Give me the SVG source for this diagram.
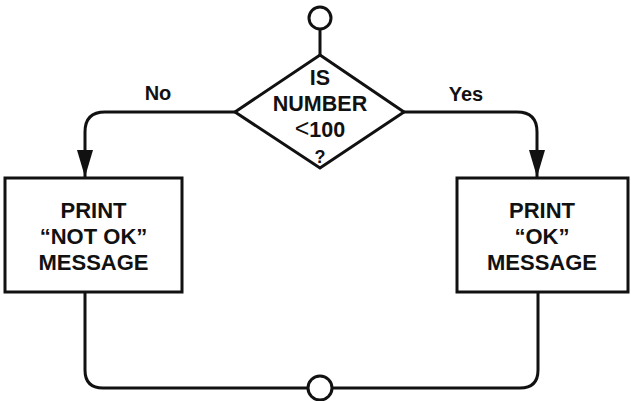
<svg xmlns="http://www.w3.org/2000/svg" width="631" height="401" viewBox="0 0 631 401">
  <style>
    .ln { fill: none; stroke: #111; stroke-width: 3; stroke-linejoin: round; }
    .shape { fill: #fff; stroke: #111; stroke-width: 3; }
    .t { font-family: "Liberation Sans", Arial, sans-serif; font-weight: bold; fill: #111; text-anchor: middle; }
    .big { font-size: 22px; }
    .dia { font-size: 21.5px; }
    .lbl { font-size: 20px; }
    .thin { font-weight: normal; font-size: 25px; }
  </style>
  <defs>
    <marker id="arrow" markerUnits="userSpaceOnUse" markerWidth="28" markerHeight="18" refX="27" refY="9" orient="auto" viewBox="0 0 28 18">
      <path d="M0,1 L27,9 L0,17 Z" fill="#111"/>
    </marker>
  </defs>
  <rect width="631" height="401" fill="#fff"/>

  <g id="connectors">
    <!-- start terminal to decision -->
    <line class="ln" x1="320" y1="30" x2="320" y2="55"/>
    <!-- No branch -->
    <path class="ln" d="M235,112 H105 Q85,112 85,132 V177" marker-end="url(#arrow)"/>
    <!-- Yes branch -->
    <path class="ln" d="M404,112 H517 Q537,112 537,132 V177" marker-end="url(#arrow)"/>
    <!-- merge back -->
    <path class="ln" d="M85,293 V370 Q85,388 103,388 H308"/>
    <path class="ln" d="M538,293 V370 Q538,388 520,388 H332"/>
  </g>

  <g id="start">
    <circle class="shape" cx="320" cy="18" r="11"/>
  </g>

  <g id="decision">
    <polygon class="shape" points="320,55 404,112 320,168 235,112"/>
    <text class="t dia" x="320" y="85">IS</text>
    <text class="t dia" x="320" y="111">NUMBER</text>
    <text class="t dia" x="320" y="137"><tspan class="thin">&lt;</tspan>100</text>
    <text class="t dia" x="320" y="163" style="font-size:18px">?</text>
  </g>

  <text id="label-no" class="t lbl" x="158" y="100">No</text>
  <text id="label-yes" class="t lbl" x="466" y="101">Yes</text>

  <g id="print-not-ok">
    <rect class="shape" x="5" y="178" width="177" height="114"/>
    <text class="t big" x="93.5" y="218">PRINT</text>
    <text class="t big" x="93.5" y="244">“NOT OK”</text>
    <text class="t big" x="93.5" y="270">MESSAGE</text>
  </g>

  <g id="print-ok">
    <rect class="shape" x="457" y="178" width="171" height="114"/>
    <text class="t big" x="542" y="218">PRINT</text>
    <text class="t big" x="542" y="244">“OK”</text>
    <text class="t big" x="542" y="270">MESSAGE</text>
  </g>

  <g id="end">
    <circle class="shape" cx="320" cy="388" r="12"/>
  </g>
</svg>
